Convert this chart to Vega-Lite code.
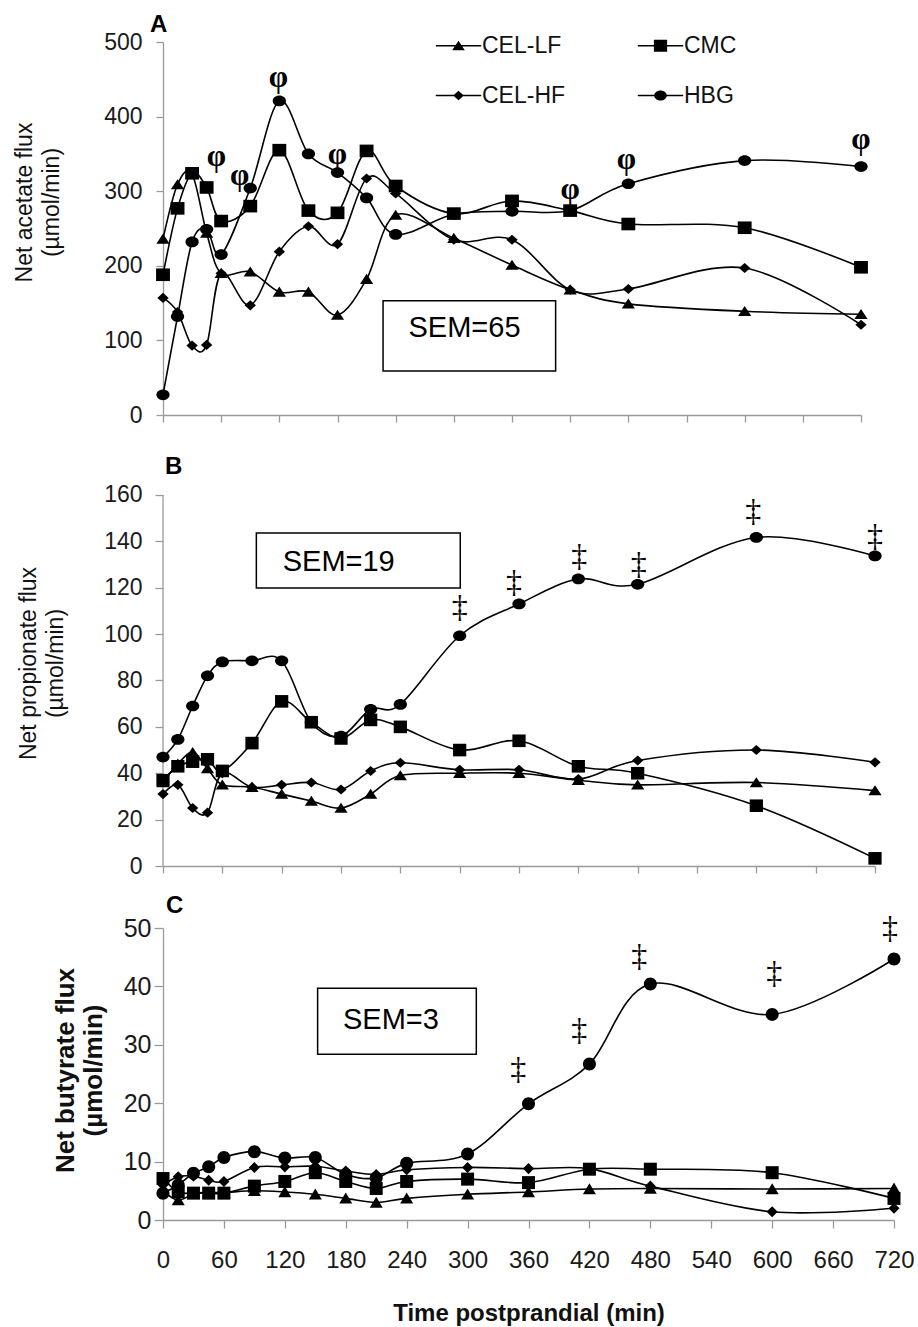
{
"$schema": "https://vega.github.io/schema/vega-lite/v6.json",
"padding": {"left": 13, "top": 13, "right": 20, "bottom": 5},
"bounds": "flush",
"spacing": 62,
"resolve": {"scale": {"x": "independent", "y": "independent", "shape": "independent"}, "axis": {"x": "independent", "y": "independent"}, "legend": {"shape": "independent"}},
"config": {
  "view": {"stroke": null},
  "font": "Liberation Sans",
  "axis": {"grid": false, "domainColor": "#9a9a9a", "tickColor": "#9a9a9a", "domainWidth": 1.3, "tickWidth": 1.3, "labelColor": "#1a1a1a", "titleColor": "#111111", "labelFont": "Liberation Sans", "titleFont": "Liberation Sans", "labelFlush": false},
  "title": {"font": "Liberation Sans", "fontSize": 24, "fontWeight": "bold", "color": "#000000", "anchor": "start", "frame": "group", "baseline": "alphabetic"},
  "legend": {"padding": 0}
},
"datasets": {
"flux": [
{"panel":"A","diet":"CEL-LF","time":0,"flux":236},{"panel":"A","diet":"CEL-LF","time":15,"flux":309},{"panel":"A","diet":"CEL-LF","time":30,"flux":323},{"panel":"A","diet":"CEL-LF","time":45,"flux":244},{"panel":"A","diet":"CEL-LF","time":60,"flux":190},{"panel":"A","diet":"CEL-LF","time":90,"flux":192},{"panel":"A","diet":"CEL-LF","time":120,"flux":165},{"panel":"A","diet":"CEL-LF","time":150,"flux":165},{"panel":"A","diet":"CEL-LF","time":180,"flux":134},{"panel":"A","diet":"CEL-LF","time":210,"flux":182},{"panel":"A","diet":"CEL-LF","time":240,"flux":268},{"panel":"A","diet":"CEL-LF","time":300,"flux":237},{"panel":"A","diet":"CEL-LF","time":360,"flux":201},{"panel":"A","diet":"CEL-LF","time":420,"flux":168},{"panel":"A","diet":"CEL-LF","time":480,"flux":149},{"panel":"A","diet":"CEL-LF","time":600,"flux":139},{"panel":"A","diet":"CEL-LF","time":720,"flux":135},
{"panel":"A","diet":"CEL-HF","time":0,"flux":157},{"panel":"A","diet":"CEL-HF","time":15,"flux":138},{"panel":"A","diet":"CEL-HF","time":30,"flux":93},{"panel":"A","diet":"CEL-HF","time":45,"flux":94},{"panel":"A","diet":"CEL-HF","time":60,"flux":190},{"panel":"A","diet":"CEL-HF","time":90,"flux":147},{"panel":"A","diet":"CEL-HF","time":120,"flux":219},{"panel":"A","diet":"CEL-HF","time":150,"flux":253},{"panel":"A","diet":"CEL-HF","time":180,"flux":229},{"panel":"A","diet":"CEL-HF","time":210,"flux":317},{"panel":"A","diet":"CEL-HF","time":240,"flux":297},{"panel":"A","diet":"CEL-HF","time":300,"flux":235},{"panel":"A","diet":"CEL-HF","time":360,"flux":235},{"panel":"A","diet":"CEL-HF","time":420,"flux":168},{"panel":"A","diet":"CEL-HF","time":480,"flux":169},{"panel":"A","diet":"CEL-HF","time":600,"flux":197},{"panel":"A","diet":"CEL-HF","time":720,"flux":121},
{"panel":"A","diet":"CMC","time":0,"flux":188},{"panel":"A","diet":"CMC","time":15,"flux":277},{"panel":"A","diet":"CMC","time":30,"flux":324},{"panel":"A","diet":"CMC","time":45,"flux":305},{"panel":"A","diet":"CMC","time":60,"flux":260},{"panel":"A","diet":"CMC","time":90,"flux":280},{"panel":"A","diet":"CMC","time":120,"flux":355},{"panel":"A","diet":"CMC","time":150,"flux":274},{"panel":"A","diet":"CMC","time":180,"flux":271},{"panel":"A","diet":"CMC","time":210,"flux":354},{"panel":"A","diet":"CMC","time":240,"flux":307},{"panel":"A","diet":"CMC","time":300,"flux":270},{"panel":"A","diet":"CMC","time":360,"flux":287},{"panel":"A","diet":"CMC","time":420,"flux":274},{"panel":"A","diet":"CMC","time":480,"flux":256},{"panel":"A","diet":"CMC","time":600,"flux":251},{"panel":"A","diet":"CMC","time":720,"flux":198},
{"panel":"A","diet":"HBG","time":0,"flux":27},{"panel":"A","diet":"HBG","time":15,"flux":132},{"panel":"A","diet":"HBG","time":30,"flux":232},{"panel":"A","diet":"HBG","time":45,"flux":249},{"panel":"A","diet":"HBG","time":60,"flux":215},{"panel":"A","diet":"HBG","time":90,"flux":304},{"panel":"A","diet":"HBG","time":120,"flux":421},{"panel":"A","diet":"HBG","time":150,"flux":350},{"panel":"A","diet":"HBG","time":180,"flux":325},{"panel":"A","diet":"HBG","time":210,"flux":291},{"panel":"A","diet":"HBG","time":240,"flux":242},{"panel":"A","diet":"HBG","time":300,"flux":269},{"panel":"A","diet":"HBG","time":360,"flux":273},{"panel":"A","diet":"HBG","time":420,"flux":274},{"panel":"A","diet":"HBG","time":480,"flux":310},{"panel":"A","diet":"HBG","time":600,"flux":341},{"panel":"A","diet":"HBG","time":720,"flux":333},
{"panel":"B","diet":"CEL-LF","time":0,"flux":36},{"panel":"B","diet":"CEL-LF","time":15,"flux":44},{"panel":"B","diet":"CEL-LF","time":30,"flux":49},{"panel":"B","diet":"CEL-LF","time":45,"flux":42},{"panel":"B","diet":"CEL-LF","time":60,"flux":35},{"panel":"B","diet":"CEL-LF","time":90,"flux":34},{"panel":"B","diet":"CEL-LF","time":120,"flux":31},{"panel":"B","diet":"CEL-LF","time":150,"flux":28},{"panel":"B","diet":"CEL-LF","time":180,"flux":25},{"panel":"B","diet":"CEL-LF","time":210,"flux":31},{"panel":"B","diet":"CEL-LF","time":240,"flux":39},{"panel":"B","diet":"CEL-LF","time":300,"flux":40},{"panel":"B","diet":"CEL-LF","time":360,"flux":40},{"panel":"B","diet":"CEL-LF","time":420,"flux":37},{"panel":"B","diet":"CEL-LF","time":480,"flux":35},{"panel":"B","diet":"CEL-LF","time":600,"flux":36},{"panel":"B","diet":"CEL-LF","time":720,"flux":32.5},
{"panel":"B","diet":"CEL-HF","time":0,"flux":31},{"panel":"B","diet":"CEL-HF","time":15,"flux":35},{"panel":"B","diet":"CEL-HF","time":30,"flux":25},{"panel":"B","diet":"CEL-HF","time":45,"flux":23},{"panel":"B","diet":"CEL-HF","time":60,"flux":40},{"panel":"B","diet":"CEL-HF","time":90,"flux":34},{"panel":"B","diet":"CEL-HF","time":120,"flux":35},{"panel":"B","diet":"CEL-HF","time":150,"flux":36},{"panel":"B","diet":"CEL-HF","time":180,"flux":33},{"panel":"B","diet":"CEL-HF","time":210,"flux":41},{"panel":"B","diet":"CEL-HF","time":240,"flux":44.5},{"panel":"B","diet":"CEL-HF","time":300,"flux":41.5},{"panel":"B","diet":"CEL-HF","time":360,"flux":41.5},{"panel":"B","diet":"CEL-HF","time":420,"flux":37.5},{"panel":"B","diet":"CEL-HF","time":480,"flux":45.5},{"panel":"B","diet":"CEL-HF","time":600,"flux":50},{"panel":"B","diet":"CEL-HF","time":720,"flux":44.7},
{"panel":"B","diet":"CMC","time":0,"flux":37},{"panel":"B","diet":"CMC","time":15,"flux":43},{"panel":"B","diet":"CMC","time":30,"flux":45},{"panel":"B","diet":"CMC","time":45,"flux":46},{"panel":"B","diet":"CMC","time":60,"flux":41},{"panel":"B","diet":"CMC","time":90,"flux":53},{"panel":"B","diet":"CMC","time":120,"flux":71},{"panel":"B","diet":"CMC","time":150,"flux":62},{"panel":"B","diet":"CMC","time":180,"flux":55},{"panel":"B","diet":"CMC","time":210,"flux":63},{"panel":"B","diet":"CMC","time":240,"flux":60},{"panel":"B","diet":"CMC","time":300,"flux":50},{"panel":"B","diet":"CMC","time":360,"flux":54},{"panel":"B","diet":"CMC","time":420,"flux":43},{"panel":"B","diet":"CMC","time":480,"flux":40},{"panel":"B","diet":"CMC","time":600,"flux":26},{"panel":"B","diet":"CMC","time":720,"flux":3.3},
{"panel":"B","diet":"HBG","time":0,"flux":47},{"panel":"B","diet":"HBG","time":15,"flux":54.6},{"panel":"B","diet":"HBG","time":30,"flux":69},{"panel":"B","diet":"HBG","time":45,"flux":82},{"panel":"B","diet":"HBG","time":60,"flux":88},{"panel":"B","diet":"HBG","time":90,"flux":88.5},{"panel":"B","diet":"HBG","time":120,"flux":88.5},{"panel":"B","diet":"HBG","time":150,"flux":62},{"panel":"B","diet":"HBG","time":180,"flux":56},{"panel":"B","diet":"HBG","time":210,"flux":67.6},{"panel":"B","diet":"HBG","time":240,"flux":69.7},{"panel":"B","diet":"HBG","time":300,"flux":99.3},{"panel":"B","diet":"HBG","time":360,"flux":113},{"panel":"B","diet":"HBG","time":420,"flux":123.8},{"panel":"B","diet":"HBG","time":480,"flux":121.5},{"panel":"B","diet":"HBG","time":600,"flux":141.7},{"panel":"B","diet":"HBG","time":720,"flux":133.7},
{"panel":"C","diet":"CEL-LF","time":0,"flux":5},{"panel":"C","diet":"CEL-LF","time":15,"flux":3.4},{"panel":"C","diet":"CEL-LF","time":30,"flux":4.5},{"panel":"C","diet":"CEL-LF","time":45,"flux":4.7},{"panel":"C","diet":"CEL-LF","time":60,"flux":4.7},{"panel":"C","diet":"CEL-LF","time":90,"flux":5.0},{"panel":"C","diet":"CEL-LF","time":120,"flux":4.8},{"panel":"C","diet":"CEL-LF","time":150,"flux":4.4},{"panel":"C","diet":"CEL-LF","time":180,"flux":3.7},{"panel":"C","diet":"CEL-LF","time":210,"flux":3.0},{"panel":"C","diet":"CEL-LF","time":240,"flux":3.7},{"panel":"C","diet":"CEL-LF","time":300,"flux":4.4},{"panel":"C","diet":"CEL-LF","time":360,"flux":4.8},{"panel":"C","diet":"CEL-LF","time":420,"flux":5.3},{"panel":"C","diet":"CEL-LF","time":480,"flux":5.4},{"panel":"C","diet":"CEL-LF","time":600,"flux":5.3},{"panel":"C","diet":"CEL-LF","time":720,"flux":5.4},
{"panel":"C","diet":"CEL-HF","time":0,"flux":6},{"panel":"C","diet":"CEL-HF","time":15,"flux":7.4},{"panel":"C","diet":"CEL-HF","time":30,"flux":7.5},{"panel":"C","diet":"CEL-HF","time":45,"flux":6.8},{"panel":"C","diet":"CEL-HF","time":60,"flux":6.6},{"panel":"C","diet":"CEL-HF","time":90,"flux":9.0},{"panel":"C","diet":"CEL-HF","time":120,"flux":9.1},{"panel":"C","diet":"CEL-HF","time":150,"flux":9.2},{"panel":"C","diet":"CEL-HF","time":180,"flux":8.4},{"panel":"C","diet":"CEL-HF","time":210,"flux":7.8},{"panel":"C","diet":"CEL-HF","time":240,"flux":8.6},{"panel":"C","diet":"CEL-HF","time":300,"flux":9.0},{"panel":"C","diet":"CEL-HF","time":360,"flux":8.8},{"panel":"C","diet":"CEL-HF","time":420,"flux":8.8},{"panel":"C","diet":"CEL-HF","time":480,"flux":5.8},{"panel":"C","diet":"CEL-HF","time":600,"flux":1.4},{"panel":"C","diet":"CEL-HF","time":720,"flux":2.0},
{"panel":"C","diet":"CMC","time":0,"flux":7.1},{"panel":"C","diet":"CMC","time":15,"flux":4.8},{"panel":"C","diet":"CMC","time":30,"flux":4.6},{"panel":"C","diet":"CMC","time":45,"flux":4.6},{"panel":"C","diet":"CMC","time":60,"flux":4.6},{"panel":"C","diet":"CMC","time":90,"flux":5.8},{"panel":"C","diet":"CMC","time":120,"flux":6.6},{"panel":"C","diet":"CMC","time":150,"flux":8.1},{"panel":"C","diet":"CMC","time":180,"flux":6.6},{"panel":"C","diet":"CMC","time":210,"flux":5.4},{"panel":"C","diet":"CMC","time":240,"flux":6.6},{"panel":"C","diet":"CMC","time":300,"flux":7.0},{"panel":"C","diet":"CMC","time":360,"flux":6.4},{"panel":"C","diet":"CMC","time":420,"flux":8.7},{"panel":"C","diet":"CMC","time":480,"flux":8.7},{"panel":"C","diet":"CMC","time":600,"flux":8.1},{"panel":"C","diet":"CMC","time":720,"flux":3.7},
{"panel":"C","diet":"HBG","time":0,"flux":4.6},{"panel":"C","diet":"HBG","time":15,"flux":6.0},{"panel":"C","diet":"HBG","time":30,"flux":8.0},{"panel":"C","diet":"HBG","time":45,"flux":9.1},{"panel":"C","diet":"HBG","time":60,"flux":10.7},{"panel":"C","diet":"HBG","time":90,"flux":11.7},{"panel":"C","diet":"HBG","time":120,"flux":10.6},{"panel":"C","diet":"HBG","time":150,"flux":10.7},{"panel":"C","diet":"HBG","time":180,"flux":7.8},{"panel":"C","diet":"HBG","time":210,"flux":7.2},{"panel":"C","diet":"HBG","time":240,"flux":9.7},{"panel":"C","diet":"HBG","time":300,"flux":11.3},{"panel":"C","diet":"HBG","time":360,"flux":19.9},{"panel":"C","diet":"HBG","time":420,"flux":26.7},{"panel":"C","diet":"HBG","time":480,"flux":40.4},{"panel":"C","diet":"HBG","time":600,"flux":35.2},{"panel":"C","diet":"HBG","time":720,"flux":44.7}
],
"sig": [
{"panel":"A","time":55,"flux":346,"symbol":"φ"},{"panel":"A","time":79,"flux":320,"symbol":"φ"},{"panel":"A","time":119,"flux":452,"symbol":"φ"},{"panel":"A","time":180,"flux":348,"symbol":"φ"},{"panel":"A","time":420,"flux":302,"symbol":"φ"},{"panel":"A","time":478,"flux":342,"symbol":"φ"},{"panel":"A","time":720,"flux":369,"symbol":"φ"},
{"panel":"B","time":300,"flux":111.7,"symbol":"‡"},{"panel":"B","time":355,"flux":122.5,"symbol":"‡"},{"panel":"B","time":421,"flux":133.7,"symbol":"‡"},{"panel":"B","time":481,"flux":130.2,"symbol":"‡"},{"panel":"B","time":597,"flux":153,"symbol":"‡"},{"panel":"B","time":720,"flux":142.3,"symbol":"‡"},
{"panel":"C","time":350,"flux":25.9,"symbol":"‡"},{"panel":"C","time":410,"flux":32.5,"symbol":"‡"},{"panel":"C","time":469,"flux":45.2,"symbol":"‡"},{"panel":"C","time":602,"flux":42.3,"symbol":"‡"},{"panel":"C","time":716,"flux":50,"symbol":"‡"}
]
},
"vconcat": [
{
 "width": 698, "height": 373,
 "title": {"text": "A", "dx": -13, "offset": -6},
 "resolve": {"scale": {"shape": "independent"}, "legend": {"shape": "independent"}},
 "layer": [
  {"data": {"name": "flux"}, "transform": [{"filter": "datum.panel === 'A'"}],
   "mark": {"type": "line", "interpolate": "cardinal", "color": "black", "strokeWidth": 1.6},
   "encoding": {
     "x": {"field": "time", "type": "quantitative", "scale": {"domain": [0, 720], "nice": false}, "axis": {"values": [0,60,120,180,240,300,360,420,480,540,600,660,720], "labels": false, "title": null, "tickSize": 7}},
     "y": {"field": "flux", "type": "quantitative", "scale": {"domain": [0, 500], "nice": false}, "axis": {"values": [0,100,200,300,400,500], "title": ["Net acetate flux", "(µmol/min)"], "labelFontSize": 23, "labelPadding": 14, "tickSize": 7, "titleFontSize": 23, "titleFontWeight": "normal", "titleAngle": -90, "titleX": -150, "titleY": 160, "titleBaseline": "top", "titleAlign": "center", "titleLineHeight": 27}},
     "detail": {"field": "diet", "type": "nominal"}
   }},
  {"data": {"values": [{}]}, "mark": {"type": "rect", "fill": "white", "stroke": "black", "strokeWidth": 1.5},
   "encoding": {"x": {"datum": 227}, "x2": {"datum": 405}, "y": {"datum": 59}, "y2": {"datum": 153}}},
  {"data": {"values": [{}]}, "mark": {"type": "text", "text": "SEM=65", "font": "Liberation Sans", "fontSize": 29, "color": "black", "align": "center", "baseline": "middle"},
   "encoding": {"x": {"datum": 311}, "y": {"datum": 116}}},
  {"data": {"name": "flux"}, "transform": [{"filter": "datum.panel === 'A'"}],
   "mark": {"type": "point", "filled": true, "color": "black", "opacity": 1, "size": 159, "strokeWidth": 0},
   "encoding": {
     "x": {"field": "time", "type": "quantitative"},
     "y": {"field": "flux", "type": "quantitative"},
     "shape": {"field": "diet", "type": "nominal",
       "scale": {"domain": ["CEL-LF", "CMC", "CEL-HF", "HBG"], "range": ["M0,-0.85L1.05,0.75L-1.05,0.75Z", "M-1.1,-1H1.1V1H-1.1Z", "M0,-0.8L0.9,0L0,0.8L-0.9,0Z", "M-1.05,0A1.05,0.85 0 1,1 1.05,0A1.05,0.85 0 1,1 -1.05,0Z"]},
       "legend": null}
   }},
  {"data": {"name": "flux"}, "transform": [{"filter": "datum.panel === 'A'"}, {"filter": "false"}],
   "mark": {"type": "point", "filled": true, "color": "black", "opacity": 1, "size": 159},
   "encoding": {
     "x": {"field": "time", "type": "quantitative"},
     "y": {"field": "flux", "type": "quantitative"},
     "shape": {"field": "diet", "type": "nominal",
       "scale": {"domain": ["CEL-LF", "CEL-HF", "CMC", "HBG"], "range": ["M-3.6,-0.12H3.6V0.12H-3.6ZM0,-0.8L1,0.7L-1,0.7Z", "M-3.6,-0.12H3.6V0.12H-3.6ZM0,-0.75L0.85,0L0,0.75L-0.85,0Z", "M-3.6,-0.12H3.6V0.12H-3.6ZM-1.05,-0.95H1.05V0.95H-1.05Z", "M-3.6,-0.12H3.6V0.12H-3.6ZM-1,0A1,0.8 0 1,1 1,0A1,0.8 0 1,1 -1,0Z"]},
       "legend": {"orient": "none", "legendX": 262, "legendY": -8, "columns": 2, "title": null, "labelFont": "Liberation Sans", "labelFontSize": 23, "labelColor": "#111111", "labelOffset": 12, "symbolOffset": 22, "columnPadding": 61, "rowPadding": 26, "symbolSize": 159, "symbolFillColor": "black", "symbolOpacity": 1}}
   }},
  {"data": {"name": "sig"}, "transform": [{"filter": "datum.panel === 'A'"}],
   "mark": {"type": "text", "font": "Liberation Serif", "fontWeight": "bold", "fontSize": 31, "color": "black", "align": "center", "baseline": "middle"},
   "encoding": {"x": {"field": "time", "type": "quantitative"}, "y": {"field": "flux", "type": "quantitative"}, "text": {"field": "symbol"}}}
 ]
},
{
 "width": 712, "height": 389,
 "title": {"text": "B", "dx": 2, "offset": -2},
 "layer": [
  {"data": {"name": "flux"}, "transform": [{"filter": "datum.panel === 'B'"}],
   "mark": {"type": "line", "interpolate": "cardinal", "color": "black", "strokeWidth": 1.6},
   "encoding": {
     "x": {"field": "time", "type": "quantitative", "scale": {"domain": [0, 720], "nice": false}, "axis": {"values": [0,60,120,180,240,300,360,420,480,540,600,660,720], "labels": false, "title": null, "tickSize": 7}},
     "y": {"field": "flux", "type": "quantitative", "scale": {"domain": [0, 167.76], "nice": false}, "axis": {"values": [0,20,40,60,80,100,120,140,160], "domain": false, "title": ["Net propionate flux", "(µmol/min)"], "labelFontSize": 23, "labelPadding": 13, "tickSize": 8, "titleFontSize": 23, "titleFontWeight": "normal", "titleAngle": -90, "titleX": -146, "titleY": 186, "titleBaseline": "top", "titleAlign": "center", "titleLineHeight": 27}},
     "detail": {"field": "diet", "type": "nominal"}
   }},
  {"data": {"values": [{}]}, "mark": {"type": "rule", "color": "#9a9a9a", "strokeWidth": 1.3},
   "encoding": {"x": {"datum": 0}, "y": {"datum": 0}, "y2": {"datum": 160}}},
  {"data": {"values": [{}]}, "mark": {"type": "rect", "fill": "white", "stroke": "black", "strokeWidth": 1.5},
   "encoding": {"x": {"datum": 94.4}, "x2": {"datum": 300.6}, "y": {"datum": 119.9}, "y2": {"datum": 143.6}}},
  {"data": {"values": [{}]}, "mark": {"type": "text", "text": "SEM=19", "font": "Liberation Sans", "fontSize": 29, "color": "black", "align": "center", "baseline": "middle"},
   "encoding": {"x": {"datum": 177.7}, "y": {"datum": 131.2}}},
  {"data": {"name": "flux"}, "transform": [{"filter": "datum.panel === 'B'"}],
   "mark": {"type": "point", "filled": true, "color": "black", "opacity": 1, "size": 159, "strokeWidth": 0},
   "encoding": {
     "x": {"field": "time", "type": "quantitative"},
     "y": {"field": "flux", "type": "quantitative"},
     "shape": {"field": "diet", "type": "nominal",
       "scale": {"domain": ["CEL-LF", "CMC", "CEL-HF", "HBG"], "range": ["M0,-0.85L1.05,0.75L-1.05,0.75Z", "M-1.05,-1H1.05V1H-1.05Z", "M0,-0.8L0.9,0L0,0.8L-0.9,0Z", "M-1.05,0A1.05,0.85 0 1,1 1.05,0A1.05,0.85 0 1,1 -1.05,0Z"]},
       "legend": null}
   }},
  {"data": {"name": "sig"}, "transform": [{"filter": "datum.panel === 'B'"}],
   "mark": {"type": "text", "font": "Liberation Serif", "fontSize": 32, "color": "black", "align": "center", "baseline": "middle"},
   "encoding": {"x": {"field": "time", "type": "quantitative"}, "y": {"field": "flux", "type": "quantitative"}, "text": {"field": "symbol"}}}
 ]
},
{
 "width": 731, "height": 292,
 "title": {"text": "C", "dx": 3, "offset": -6},
 "layer": [
  {"data": {"name": "flux"}, "transform": [{"filter": "datum.panel === 'C'"}],
   "mark": {"type": "line", "interpolate": "cardinal", "color": "black", "strokeWidth": 1.6},
   "encoding": {
     "x": {"field": "time", "type": "quantitative", "scale": {"domain": [0, 720], "nice": false}, "axis": {"values": [0,60,120,180,240,300,360,420,480,540,600,660,720], "title": "Time postprandial (min)", "labelFontSize": 24, "labelPadding": 20, "tickSize": 8, "labelFlush": false, "labelOverlap": false, "titleFontSize": 24, "titleFontWeight": "bold", "titlePadding": 29}},
     "y": {"field": "flux", "type": "quantitative", "scale": {"domain": [0, 50], "nice": false}, "axis": {"values": [0,10,20,30,40,50], "title": ["Net butyrate flux", "(µmol/min)"], "labelFontSize": 25, "labelPadding": 3, "tickSize": 9, "titleFontSize": 26, "titleFontWeight": "bold", "titleAngle": -90, "titleX": -111, "titleY": 142, "titleBaseline": "top", "titleAlign": "center", "titleLineHeight": 28}},
     "detail": {"field": "diet", "type": "nominal"}
   }},
  {"data": {"values": [{}]}, "mark": {"type": "rect", "fill": "white", "stroke": "black", "strokeWidth": 1.5},
   "encoding": {"x": {"datum": 152.3}, "x2": {"datum": 308.6}, "y": {"datum": 28.4}, "y2": {"datum": 39.7}}},
  {"data": {"values": [{}]}, "mark": {"type": "text", "text": "SEM=3", "font": "Liberation Sans", "fontSize": 29, "color": "black", "align": "center", "baseline": "middle"},
   "encoding": {"x": {"datum": 224.5}, "y": {"datum": 34.2}}},
  {"data": {"name": "flux"}, "transform": [{"filter": "datum.panel === 'C'"}],
   "mark": {"type": "point", "filled": true, "color": "black", "opacity": 1, "size": 169, "strokeWidth": 0},
   "encoding": {
     "x": {"field": "time", "type": "quantitative"},
     "y": {"field": "flux", "type": "quantitative"},
     "shape": {"field": "diet", "type": "nominal",
       "scale": {"domain": ["CEL-LF", "CMC", "CEL-HF", "HBG"], "range": ["M0,-0.9L1,0.8L-1,0.8Z", "M-1,-1H1V1H-1Z", "M0,-0.85L0.85,0L0,0.85L-0.85,0Z", "M-1,0A1,1 0 1,1 1,0A1,1 0 1,1 -1,0Z"]},
       "legend": null}
   }},
  {"data": {"name": "sig"}, "transform": [{"filter": "datum.panel === 'C'"}],
   "mark": {"type": "text", "font": "Liberation Serif", "fontSize": 32, "color": "black", "align": "center", "baseline": "middle"},
   "encoding": {"x": {"field": "time", "type": "quantitative"}, "y": {"field": "flux", "type": "quantitative"}, "text": {"field": "symbol"}}}
 ]
}
]
}
